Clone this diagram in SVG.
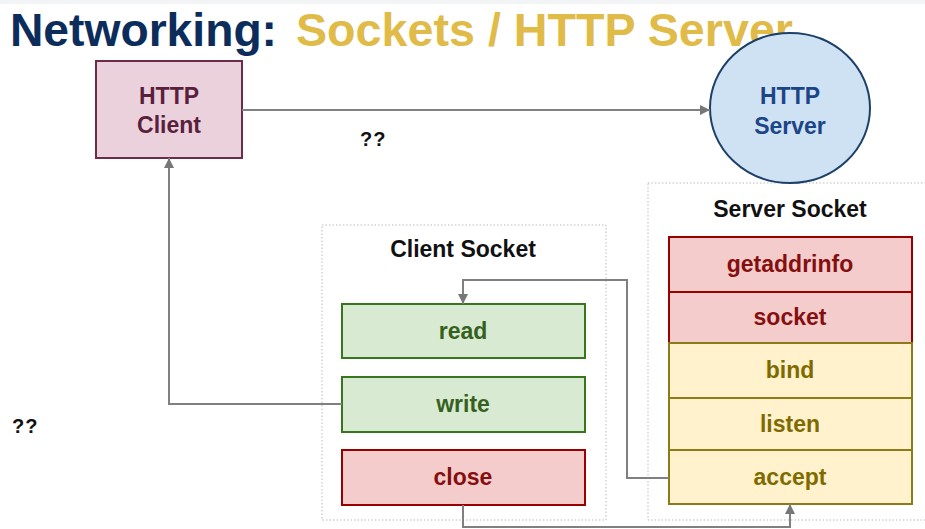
<svg xmlns="http://www.w3.org/2000/svg" width="925" height="529" viewBox="0 0 925 529">
<defs>
<marker id="arr" viewBox="0 0 10 10" refX="10" refY="5" markerWidth="10" markerHeight="10" markerUnits="userSpaceOnUse" orient="auto">
<path d="M0,0 L10,5 L0,10 z" fill="#777"/>
</marker>
</defs>
<style>
text{font-family:"Liberation Sans",Arial,sans-serif;font-weight:bold;text-anchor:middle}
.lbl{font-size:23px}
.sl{font-size:23px;fill:#111}
.conn{fill:none;stroke:#808080;stroke-width:2}
.cont{fill:none;stroke:#bbb;stroke-width:1;stroke-dasharray:1.5 2}
.red rect{fill:#f4cccc;stroke:#990000;stroke-width:2}
.red text{fill:#850f0f}
.grn rect{fill:#d9ead3;stroke:#38761d;stroke-width:2}
.grn text{fill:#35611d}
.yel rect{fill:#fff2cc;stroke:#8f7a1a;stroke-width:2}
.yel text{fill:#7f6a00}
.q{font-size:20px;fill:#111;letter-spacing:1px;text-anchor:start}
</style>
<rect x="0" y="0" width="925" height="529" fill="#fff"/>
<rect x="0" y="0" width="925" height="4" fill="#f2f4f5"/>
<g id="title">
<text x="10" y="46" style="font-size:46px;text-anchor:start;fill:#0c2d5c" textLength="267" lengthAdjust="spacingAndGlyphs">Networking:</text>
<text x="296" y="46" style="font-size:46px;text-anchor:start;fill:#e0bb48" textLength="497" lengthAdjust="spacingAndGlyphs">Sockets / HTTP Server</text>
</g>
<g id="client-socket-container">
<rect class="cont" x="322" y="225" width="284" height="295"/>
<text class="sl" x="463" y="257">Client Socket</text>
</g>
<g id="server-socket-container">
<rect class="cont" x="648" y="183" width="280" height="337"/>
<text class="sl" x="790" y="217">Server Socket</text>
</g>
<g id="http-client">
<rect x="96" y="61" width="146" height="97" fill="#ead1dc" stroke="#6b2c4a" stroke-width="2"/>
<text class="lbl" x="169" y="104" fill="#5a1f3d">HTTP</text>
<text class="lbl" x="169" y="133" fill="#5a1f3d">Client</text>
</g>
<g id="http-server">
<ellipse cx="790" cy="108" rx="80" ry="75" fill="#cfe2f3" stroke="#1c4068" stroke-width="2"/>
<text class="lbl" x="790" y="104" fill="#1c4587">HTTP</text>
<text class="lbl" x="790" y="134" fill="#1c4587">Server</text>
</g>
<g id="read" class="grn">
<rect x="342" y="304" width="243" height="54"/>
<text class="lbl" x="463" y="339">read</text>
</g>
<g id="write" class="grn">
<rect x="342" y="377" width="243" height="55"/>
<text class="lbl" x="463" y="412">write</text>
</g>
<g id="close" class="red">
<rect x="342" y="450" width="243" height="55"/>
<text class="lbl" x="463" y="485">close</text>
</g>
<g id="getaddrinfo" class="red">
<rect x="669" y="237" width="243" height="55"/>
<text class="lbl" x="790" y="272">getaddrinfo</text>
</g>
<g id="socket" class="red">
<rect x="669" y="292" width="243" height="51"/>
<text class="lbl" x="790" y="325">socket</text>
</g>
<g id="bind" class="yel">
<rect x="669" y="343" width="243" height="55"/>
<text class="lbl" x="790" y="378">bind</text>
</g>
<g id="listen" class="yel">
<rect x="669" y="398" width="243" height="52"/>
<text class="lbl" x="790" y="432">listen</text>
</g>
<g id="accept" class="yel">
<rect x="669" y="450" width="243" height="54"/>
<text class="lbl" x="790" y="485">accept</text>
</g>
<g id="connectors">
<path class="conn" d="M242,110 H710" marker-end="url(#arr)"/>
<path class="conn" d="M342,404 H169 V158" marker-end="url(#arr)"/>
<path class="conn" d="M669,478 H627 V280 H463 V304" marker-end="url(#arr)"/>
<path class="conn" d="M463,505 V527 H790 V504" marker-end="url(#arr)"/>
</g>
<g id="labels">
<text class="q" x="360" y="146">??</text>
<text class="q" x="12" y="433">??</text>
</g>
</svg>
